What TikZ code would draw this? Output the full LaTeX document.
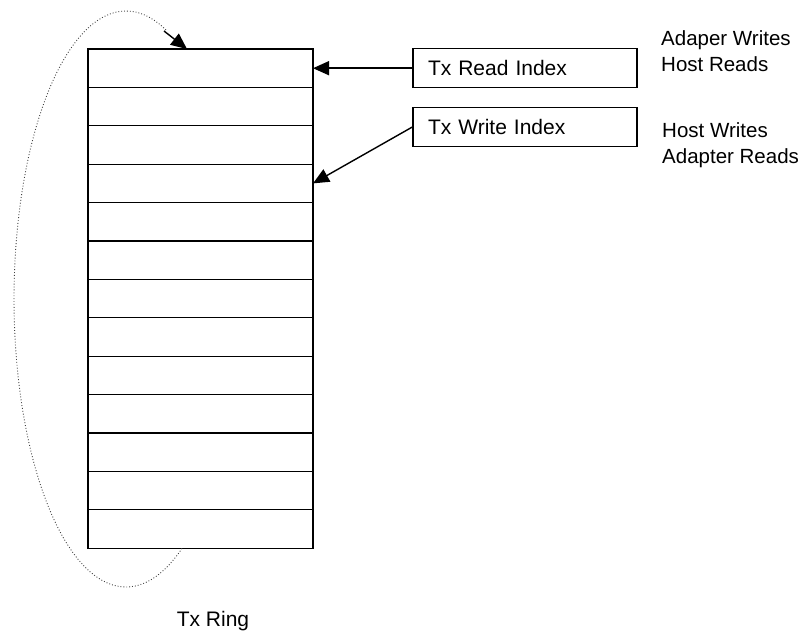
\documentclass[tikz,border=0pt]{standalone}
\usepackage{fontspec}
\setmainfont{Liberation Sans}
\usetikzlibrary{arrows.meta,calc}

\tikzset{
  slot/.style={draw=black, line width=1.3pt, minimum width=225pt, minimum height=38.4pt,
               inner sep=0pt, outer sep=0pt},
  idxbox/.style={draw=black, line width=1.3pt, minimum width=224pt, minimum height=39pt,
                 text width=194pt, inner xsep=15pt, inner ysep=0pt, align=left,
                 font=\fontsize{21}{24}\selectfont},
  note/.style={anchor=west, align=left, inner sep=0pt,
               font=\fontsize{20.5}{26}\selectfont},
  ptr/.style={line width=1.4pt, -{Triangle[length=16pt,width=14pt]}},
  wrap/.style={line width=0.9pt, dotted, draw=black!75}
}

\begin{document}
\begin{tikzpicture}[x=1pt,y=-1pt]
  \useasboundingbox (0,0) rectangle (811,644);

  % the ring of 13 descriptor slots
  \foreach \k in {1,...,13} {
    \node[slot] (r\k) at (200.5, {49+38.4*(\k-0.5)}) {};
  }

  % index registers
  \node[idxbox] (rd) at (525,68.2) {Tx Read Index};
  \node[idxbox] (wr) at (525,127) {Tx Write Index};

  \draw[ptr] (rd.west) -- (r1.east);
  \draw[ptr] (wr.west) -- (r4.east);

  % ownership notes
  \node[note] (n1) at (661,51) {Adaper Writes\\Host Reads};
  \node[note] (n2) at (662,145) {Host Writes\\Adapter Reads};

  % wrap-around from the last slot back to the first
  \coordinate (wrapend) at (164,31);
  \draw[wrap] plot[domain=60:291, samples=120, smooth] ({126+112*cos(\x)},{299+288*sin(\x)});
  \draw[ptr] (wrapend) -- ($(r1.north west)+(99,0)$);

  \node[font=\fontsize{21}{24}\selectfont] (ring) at (213,621) {Tx Ring};
\end{tikzpicture}
\end{document}
